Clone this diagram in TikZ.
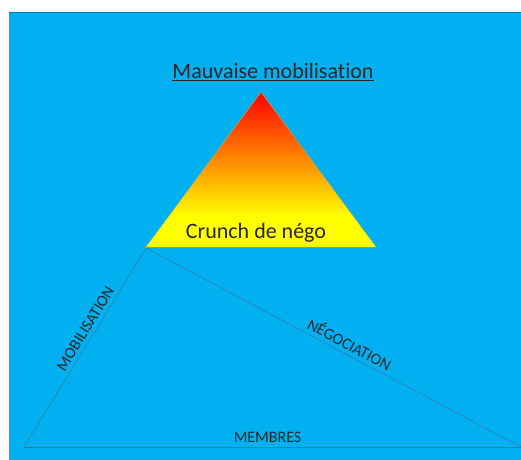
\documentclass[tikz,border=0pt]{standalone}
\usepackage{fontspec}
\setmainfont[Ligatures=NoCommon]{Carlito}
\definecolor{fond}{HTML}{00B0F0}
\definecolor{trait}{HTML}{3A78A6}
\definecolor{orangec}{HTML}{FF8A00}
\pgfdeclareverticalshading{crunch}{100bp}{color(0bp)=(yellow); color(35bp)=(yellow); color(53bp)=(orangec); color(75bp)=(red); color(100bp)=(red)}
\begin{document}
\begin{tikzpicture}[x=0.75pt,y=-0.75pt]
            \tikzstyle{every node}+=[inner sep=0pt]
            \tikzstyle{titre}=[font=\fontsize{16.5}{19}\selectfont, text=black!85]
            \tikzstyle{cote}=[font=\fontsize{12}{14}\selectfont, text=black!85, inner sep=3pt]
                \useasboundingbox (0,0) rectangle (521,460);
                \fill [fond] (9,12) rectangle (521,460);
                \draw [fond!70!black, line width=0.6pt] (9,12) -- (521,12);
                % grand triangle
                \coordinate (a) at (146,248);
                \coordinate (b) at (24,447);
                \coordinate (c) at (521,447);
                \draw [trait] (b) -- (a) node [cote, pos=0.57, above, sloped] (mob) {MOBILISATION};
                \draw [trait] (a) -- (c) node [cote, pos=0.53, above, sloped] (neg) {NÉGOCIATION};
                \draw [trait] (b) -- (c) node [cote, pos=0.49, above] (mem) {MEMBRES};
                % petit triangle
                \coordinate (s) at (261,92);
                \coordinate (g) at (146,247);
                \coordinate (d) at (376,247);
                \shade [shading=crunch] (s) -- (d) -- (g) -- cycle;
                \draw [olive!60, line width=0.3pt] (s) -- (d) -- (g) -- cycle;
                \node [titre] (titre) at (273,72) {\underline{Mauvaise mobilisation}};
                \node [titre] (nego) at (256,233) {Crunch de négo};
\end{tikzpicture}
\end{document}
